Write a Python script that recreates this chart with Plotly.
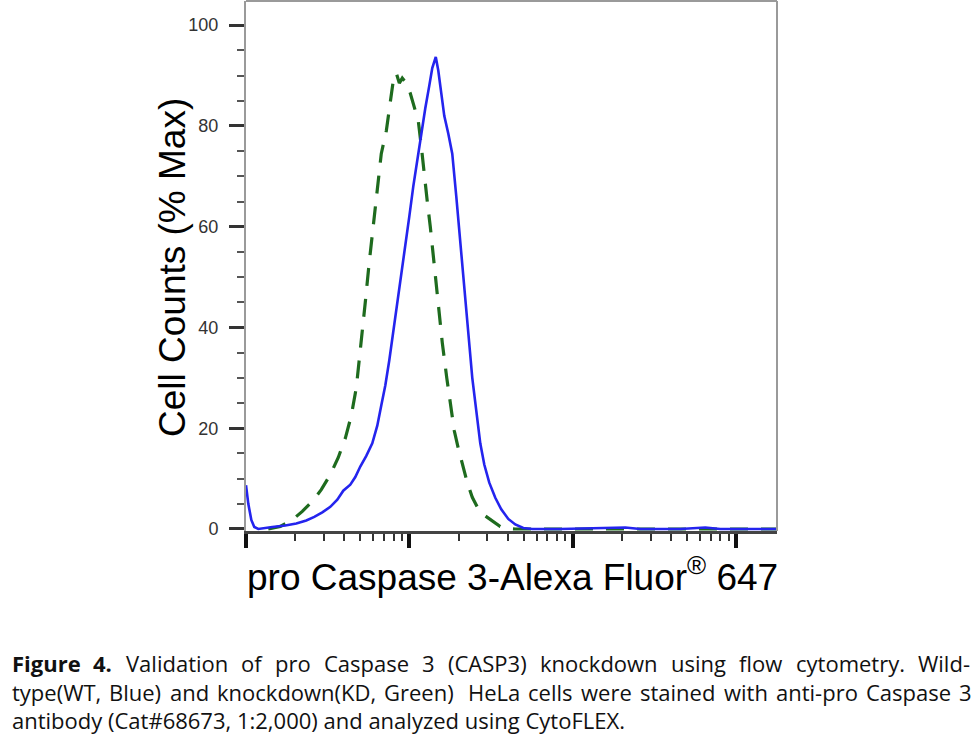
import plotly.graph_objects as go

# ---------------- data (fluorescence intensity vs % of max count) ----------------
wt_x = [1000, 1033, 1078, 1124, 1189, 1294, 1449, 1740, 2032, 2339, 2618, 2931, 3281,
        3621, 3939, 4348, 4666, 5006, 5448, 5929, 6361, 6729, 7121, 7535, 7969, 8433,
        8923, 9438, 9986, 10566, 11177, 11826, 12512, 13239, 13807, 14506, 15026, 15674,
        16350, 17298, 18298, 19364, 20491, 21677, 22935, 24265, 25668, 27157, 28732,
        30832, 33561, 36504, 40301, 44480, 49788, 56505, 83850, 147330, 209600, 258900,
        454900, 647100, 799400, 1404000, 1784000]
wt_y = [8.7, 5.0, 1.8, 0.4, 0.0, 0.2, 0.4, 0.7, 1.1, 1.7, 2.4, 3.3, 4.4,
        5.8, 7.6, 8.8, 10.3, 12.4, 14.5, 17.0, 20.5, 24.5, 28.5, 33.5, 39.0, 44.5,
        50.0, 56.0, 62.0, 68.0, 73.5, 78.5, 83.5, 88.0, 91.5, 93.7, 91.0, 86.5,
        82.0, 78.5, 74.5, 66.0, 57.0, 47.5, 37.5, 30.0, 23.5, 17.0, 12.8,
        9.2, 6.2, 3.9, 2.0, 0.9, 0.2, 0.0, 0.0, 0.1, 0.3, 0.0,
        0.0, 0.3, 0.0, 0.0, 0.0]

kd_x = [1369, 1622, 1920, 2211, 2546, 2889, 3281, 3672, 4053, 4410, 4732, 5077, 5372,
        5682, 6013, 6361, 6730, 7222, 7640, 7970, 8316, 8677, 9049, 9573, 10127, 10715,
        11336, 11826, 12337, 12869, 13426, 14205, 15026, 15896, 16935, 17799, 18828,
        19924, 21077, 22617, 24265, 26411, 29140, 32624, 35997, 39725, 44480, 1784000]
kd_y = [0.0, 0.5, 1.8, 3.5, 5.5, 7.8, 10.8, 14.2, 18.0, 22.5, 28.0, 37.0, 45.0,
        53.0, 60.0, 68.0, 74.5, 79.0, 85.0, 89.0, 90.5, 88.5, 89.5, 88.5, 86.5, 84.0,
        81.0, 76.0, 70.0, 65.0, 60.0, 52.0, 44.5, 37.0, 30.0, 24.5, 19.5,
        16.0, 13.0, 9.2, 6.3, 4.0, 2.6, 1.4, 0.5, 0.1, 0.0, 0.0]

y_tickvals = [0, 20, 40, 60, 80, 100]
y_ticktext = ["0", "20", "40", "60", "80", "100"]

x_title = "pro Caspase 3-Alexa Fluor<sup>®</sup> 647"
y_title = "Cell Counts (% Max)"

caption_line1 = [("Figure", True), ("4.", True), ("Validation", False), ("of", False),
                 ("pro", False), ("Caspase", False), ("3", False), ("(CASP3)", False),
                 ("knockdown", False), ("using", False), ("flow", False),
                 ("cytometry.", False), ("Wild-", False)]
caption_line2 = [("type(WT,", False), ("Blue)", False), ("and", False),
                 ("knockdown(KD,", False), ("Green)", False), (" HeLa", False),
                 ("cells", False), ("were", False), ("stained", False), ("with", False),
                 ("anti-pro", False), ("Caspase", False), ("3", False)]
caption_line3 = "antibody (Cat#68673, 1:2,000) and analyzed using CytoFLEX."

# ---------------- layout geometry ----------------
FIG_W, FIG_H = 980, 742
M_L, M_R, M_T, M_B = 246, 203, 1, 211
PW = FIG_W - M_L - M_R
PH = FIG_H - M_T - M_B


def px_x(px):
    return (px - M_L) / PW


def px_y(py):
    return (FIG_H - M_B - py) / PH


# approximate Open Sans advance widths (em)
W_REG = {' ': .26, 'a': .556, 'b': .613, 'c': .476, 'd': .613, 'e': .561, 'f': .339,
         'g': .548, 'h': .614, 'i': .253, 'k': .525, 'l': .253, 'm': .930, 'n': .614,
         'o': .604, 'p': .613, 'r': .408, 's': .477, 't': .353, 'u': .614, 'w': .779,
         'y': .502, 'z': .462, 'A': .633, 'B': .648, 'C': .631, 'D': .729, 'E': .556,
         'F': .516, 'G': .728, 'H': .738, 'K': .590, 'L': .519, 'P': .603, 'S': .549,
         'T': .556, 'V': .575, 'W': .928, 'X': .569, '(': .295, ')': .295, ',': .25,
         '.': .266, '-': .322, ':': .266, '#': .646}
W_BOLD = {'F': .557, 'i': .288, 'g': .573, 'u': .640, 'r': .458, 'e': .585, '.': .30}


def text_w(s, size, bold=False):
    tot = 0.0
    for ch in s:
        if ch.isdigit():
            tot += .572
        elif bold and ch in W_BOLD:
            tot += W_BOLD[ch]
        else:
            tot += W_REG.get(ch, .55)
    return tot * size


CAP_SIZE = 22
CAP_FONT = dict(family="Open Sans, Noto Sans, sans-serif", size=CAP_SIZE, color="#111111")

fig = go.Figure()

fig.add_trace(go.Scatter(x=kd_x, y=kd_y, mode="lines", name="KD",
                         line=dict(color="#1e6b1e", width=3.2, dash="18px,13px")))
fig.add_trace(go.Scatter(x=wt_x, y=wt_y, mode="lines", name="WT",
                         line=dict(color="#2424ee", width=2.6)))

annotations = []


def justified(words, left, right, py):
    widths = [text_w(w.strip(), CAP_SIZE, b) for w, b in words]
    extra = [text_w(" ", CAP_SIZE) if w.startswith(" ") else 0 for w, _ in words]
    gap = (right - left - sum(widths) - sum(extra)) / (len(words) - 1)
    x = left
    for (w, b), wd, ex in zip(words, widths, extra):
        x += ex
        txt = "<b>%s</b>" % w.strip() if b else w.strip()
        annotations.append(dict(text=txt, x=px_x(x), y=px_y(py), xref="paper",
                                yref="paper", xanchor="left", yanchor="middle",
                                showarrow=False, font=CAP_FONT))
        x += wd + gap


justified(caption_line1, 10, 968, 663)
justified(caption_line2, 10, 970, 692)
annotations.append(dict(text=caption_line3, x=px_x(10), y=px_y(720), xref="paper",
                        yref="paper", xanchor="left", yanchor="middle",
                        showarrow=False, font=CAP_FONT))

TITLE_FONT = dict(family="Arial, Liberation Sans, sans-serif", size=37, color="#000000")
annotations.append(dict(text=x_title, x=px_x(512), y=px_y(574), xref="paper",
                        yref="paper", xanchor="center", yanchor="middle",
                        showarrow=False, font=TITLE_FONT))
annotations.append(dict(text=y_title, x=px_x(172), y=px_y(268), xref="paper",
                        yref="paper", xanchor="center", yanchor="middle",
                        textangle=-90, showarrow=False, font=TITLE_FONT))

fig.update_layout(
    width=FIG_W, height=FIG_H,
    margin=dict(l=M_L, r=M_R, t=M_T, b=M_B, pad=0),
    paper_bgcolor="white", plot_bgcolor="white",
    showlegend=False,
    annotations=annotations,
    shapes=[
        dict(type="line", xref="paper", yref="paper", x0=0, x1=1, y0=1, y1=1,
             line=dict(color="#9a9a9a", width=2)),
        dict(type="line", xref="paper", yref="paper", x0=1, x1=1, y0=0, y1=1,
             line=dict(color="#9a9a9a", width=2)),
    ],
    xaxis=dict(
        type="log", range=[3, 6.25], dtick=1,
        showline=True, linecolor="#444444", linewidth=2.5,
        showgrid=False, zeroline=False, showticklabels=False,
        ticks="outside", ticklen=14, tickwidth=3.5, tickcolor="#111111",
        minor=dict(dtick="D1", ticks="outside", ticklen=7, tickwidth=2,
                   tickcolor="#333333", showgrid=False),
        layer="below traces",
    ),
    yaxis=dict(
        range=[-0.4, 104.8],
        tickmode="array", tickvals=y_tickvals, ticktext=y_ticktext,
        showline=True, linecolor="#9a9a9a", linewidth=2,
        showgrid=False, zeroline=False,
        ticks="outside", ticklen=15, tickwidth=3, tickcolor="#333333",
        ticklabelstandoff=7,
        tickfont=dict(family="Arial, Liberation Sans, sans-serif", size=18, color="#333333"),
        minor=dict(dtick=5, ticks="outside", ticklen=7, tickwidth=1.6,
                   tickcolor="#555555", showgrid=False),
        layer="below traces",
    ),
)

fig.write_html("out.html")
